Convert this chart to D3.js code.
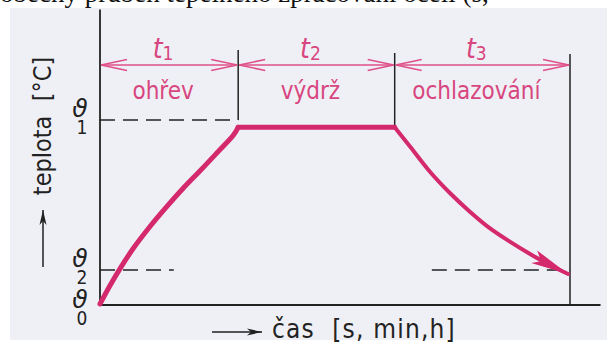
<!DOCTYPE html>
<html>
<head>
<meta charset="utf-8">
<script src="https://cdn.jsdelivr.net/npm/d3@7"></script>
<style>
  html, body { margin: 0; padding: 0; background: #fff; }
  svg { display: block; }
</style>
</head>
<body>
<div id="chart"></div>
<script>
// phase boundaries on the time axis (arbitrary units, 0..100)
const boundaries = [0, 29.4, 62.7, 100];
const phaseNames = ["ohřev", "výdrž", "ochlazování"];
const phaseSymbols = ["1", "2", "3"];

// temperature levels (arbitrary units, ϑ1 = 100)
const levelNames = ["0", "1", "2"];
const levelValues = [0, 100, 18.5];

// heating curve
const heatTime = [0, 2.1, 4.3, 7.1, 10.6, 14.2, 17.7, 21.3, 24.8, 28.4, 29.4];
const heatTemp = [0, 9.9, 19.4, 30.3, 42.0, 52.9, 62.9, 72.4, 81.9, 91.8, 96];

// holding at temperature
const holdTime = [29.4, 62.7];
const holdTemp = [96, 96];

// cooling curve
const coolTime = [62.7, 66.0, 70.2, 74.5, 78.7, 83.0, 87.2, 91.5, 95.7, 99.6];
const coolTemp = [96, 85.5, 71.9, 60.2, 50.2, 41.1, 33.9, 27.2, 21.2, 16.3];

const width = 607, height = 347;
const black = "#222";
const curveColor = "#d4296c";
const dimColor = "#df5089";
const textColor = "#d8467f";
const FONT = "'Liberation Sans Narrow', 'DejaVu Sans Condensed', 'Liberation Sans', sans-serif";

const svg = d3.select("#chart").append("svg")
  .attr("width", width)
  .attr("height", height);

// scanned page background + clipped caption line above the figure
svg.append("rect").attr("width", width).attr("height", height).attr("fill", "#fff");
svg.append("rect")
  .attr("x", 10).attr("y", 8)
  .attr("width", width - 10).attr("height", 332)
  .attr("fill", "#eff0f5");
svg.append("text")
  .attr("x", 0).attr("y", 2)
  .attr("font-family", "'Liberation Serif', serif")
  .attr("font-size", 27)
  .attr("fill", "#111")
  .text("obecný průběh tepelného zpracování oceli (s,");

const x = d3.scaleLinear().domain([0, 100]).range([100, 570]);
const y = d3.scaleLinear().domain([0, 100]).range([304, 120]);

const defs = svg.append("defs");
defs.append("marker")
  .attr("id", "open-head")
  .attr("markerUnits", "userSpaceOnUse")
  .attr("viewBox", "-28 -8 30 16")
  .attr("markerWidth", 30).attr("markerHeight", 16)
  .attr("refX", 0).attr("refY", 0)
  .attr("orient", "auto-start-reverse")
  .append("path")
  .attr("d", "M-26,-5.5L0,0L-26,5.5")
  .attr("fill", "none")
  .attr("stroke", dimColor)
  .attr("stroke-width", 1.5);

defs.append("marker")
  .attr("id", "black-head")
  .attr("markerUnits", "userSpaceOnUse")
  .attr("viewBox", "-16 -5 18 10")
  .attr("markerWidth", 18).attr("markerHeight", 10)
  .attr("refX", 0).attr("refY", 0)
  .attr("orient", "auto")
  .append("path")
  .attr("d", "M-15,-3.5L0,0L-15,3.5L-11,0Z")
  .attr("fill", black);

defs.append("marker")
  .attr("id", "curve-head")
  .attr("markerUnits", "userSpaceOnUse")
  .attr("viewBox", "-40 -10 42 20")
  .attr("markerWidth", 42).attr("markerHeight", 20)
  .attr("refX", 0).attr("refY", 0)
  .attr("orient", "auto")
  .append("path")
  .attr("d", "M-38,-8L0,0L-38,6L-30,0Z")
  .attr("fill", curveColor);

// axes (plain lines, no ticks)
const axisG = svg.append("g").attr("stroke", black).attr("stroke-width", 1.8);
axisG.append("line")
  .attr("x1", x(0)).attr("x2", x(0))
  .attr("y1", y(0) + 1).attr("y2", y(160));
axisG.append("line")
  .attr("x1", x(0)).attr("x2", x(106.5))
  .attr("y1", y(0) + 1).attr("y2", y(0) + 1);

// phase dividers
const dividerTop = [50, 53, 54];
const dividerBottom = [y(100), y(holdTemp[1]) - 2, y(0) + 1];
axisG.selectAll("line.divider")
  .data(boundaries.slice(1))
  .join("line")
  .attr("class", "divider")
  .attr("stroke-width", 1.5)
  .attr("x1", (d) => x(d)).attr("x2", (d) => x(d))
  .attr("y1", (d, i) => dividerTop[i])
  .attr("y2", (d, i) => dividerBottom[i]);

// dashed temperature levels
const dashG = svg.append("g")
  .attr("stroke", black).attr("stroke-width", 1.5)
  .attr("stroke-dasharray", "15,8").attr("fill", "none");
dashG.append("line")
  .attr("x1", x(0)).attr("x2", x(boundaries[1]))
  .attr("y1", y(levelValues[1])).attr("y2", y(levelValues[1]));
dashG.append("line")
  .attr("x1", x(0)).attr("x2", x(15.7))
  .attr("y1", y(levelValues[2])).attr("y2", y(levelValues[2]));
dashG.append("line")
  .attr("x1", x(70.6)).attr("x2", x(100))
  .attr("y1", y(levelValues[2])).attr("y2", y(levelValues[2]));

// level labels: ϑ with its index written underneath
const levelText = svg.selectAll("text.level")
  .data(levelNames)
  .join("text")
  .attr("class", "level")
  .attr("transform", (d, i) => `translate(80,${y(levelValues[i]) + (levelValues[i] === 0 ? 4 : -3)})`)
  .attr("font-family", "'DejaVu Sans', sans-serif")
  .attr("fill", black)
  .attr("text-anchor", "middle");
levelText.append("tspan")
  .attr("x", 0).attr("y", 0)
  .attr("font-size", 25)
  .attr("font-style", "italic")
  .text("ϑ");
levelText.append("tspan")
  .attr("x", 2).attr("y", 17)
  .attr("font-family", FONT)
  .attr("font-size", 19)
  .text((d) => d);

// dimension arrows for phases
const dimY = 65;
svg.selectAll("line.dim")
  .data(phaseNames)
  .join("line")
  .attr("class", "dim")
  .attr("x1", (d, i) => x(boundaries[i]) + 1)
  .attr("x2", (d, i) => x(boundaries[i + 1]) - 1)
  .attr("y1", dimY).attr("y2", dimY)
  .attr("stroke", dimColor)
  .attr("stroke-width", 1.6)
  .attr("marker-start", "url(#open-head)")
  .attr("marker-end", "url(#open-head)");

const symText = svg.selectAll("text.sym")
  .data(phaseSymbols)
  .join("text")
  .attr("class", "sym")
  .attr("x", (d, i) => (x(boundaries[i]) + x(boundaries[i + 1])) / 2 - 6)
  .attr("y", 58)
  .attr("font-family", FONT)
  .attr("fill", textColor)
  .attr("text-anchor", "middle");
symText.append("tspan")
  .attr("font-size", 28)
  .attr("font-style", "italic")
  .text("t");
symText.append("tspan")
  .attr("font-size", 19)
  .attr("dy", 2)
  .text((d) => d);

svg.selectAll("text.phase")
  .data(phaseNames)
  .join("text")
  .attr("class", "phase")
  .attr("x", (d, i) => (x(boundaries[i]) + x(boundaries[i + 1])) / 2 - 6)
  .attr("y", 99)
  .attr("font-family", FONT)
  .attr("font-size", 24)
  .attr("fill", textColor)
  .attr("text-anchor", "middle")
  .text((d) => d);

// temperature profile
const smooth = d3.line()
  .x((d) => x(d[0]))
  .y((d) => y(d[1]))
  .curve(d3.curveCatmullRom.alpha(0.5));

const curveG = svg.append("g")
  .attr("fill", "none")
  .attr("stroke", curveColor)
  .attr("stroke-linecap", "round")
  .attr("stroke-linejoin", "round");

curveG.append("path")
  .attr("d", smooth(d3.zip(heatTime, heatTemp)))
  .attr("stroke-width", 5);
curveG.append("path")
  .attr("d", d3.line().x((d) => x(d[0])).y((d) => y(d[1]))(d3.zip(holdTime, holdTemp)))
  .attr("stroke-width", 5);
curveG.append("path")
  .attr("d", smooth(d3.zip(coolTime, coolTemp)))
  .attr("stroke-width", 4)
  .attr("marker-end", "url(#curve-head)");

// axis titles
svg.append("line")
  .attr("x1", 212).attr("x2", 262)
  .attr("y1", 332).attr("y2", 332)
  .attr("stroke", black).attr("stroke-width", 1.5)
  .attr("marker-end", "url(#black-head)");
svg.append("text")
  .attr("x", 272).attr("y", 338)
  .attr("font-family", FONT)
  .attr("font-size", 26)
  .attr("letter-spacing", 1.2)
  .attr("fill", black)
  .attr("xml:space", "preserve")
  .text("čas  [s, min,h]");

svg.append("line")
  .attr("x1", 43).attr("x2", 43)
  .attr("y1", 267).attr("y2", 210)
  .attr("stroke", black).attr("stroke-width", 1.5)
  .attr("marker-end", "url(#black-head)");
svg.append("text")
  .attr("transform", "translate(51,126) rotate(-90)")
  .attr("font-family", FONT)
  .attr("font-size", 25)
  .attr("fill", black)
  .attr("text-anchor", "middle")
  .attr("xml:space", "preserve")
  .text("teplota  [°C]");
</script>
</body>
</html>
